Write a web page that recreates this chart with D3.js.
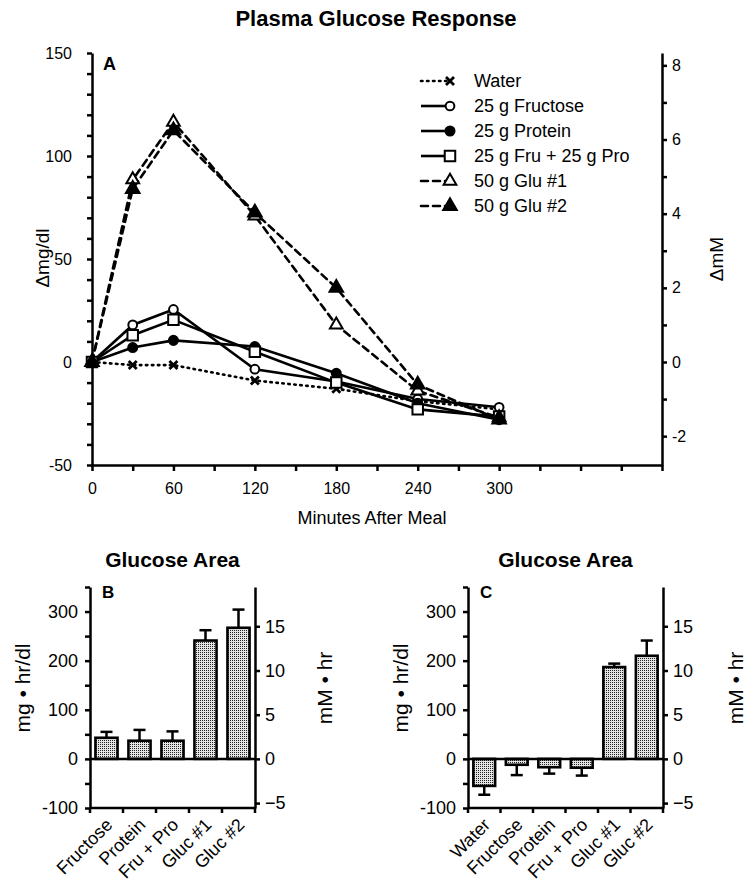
<!DOCTYPE html>
<html lang="en">
<head>
	<meta charset="utf-8">
	<title>Plasma Glucose Response</title>
	<script src='https://d3js.org/d3.v7.min.js'></script>
	<style>
		body { margin: 0; background: #fff; }
		svg text { font-family: "Liberation Sans", Arial, Helvetica, sans-serif; fill: #000; }
		.axis path, .axis line { stroke: #000; stroke-width: 2.5; }
		.axis text { font-size: 16px; }
		.barAxis text { font-size: 18px; }
	</style>
</head>
<body>
	<div id="chart"></div>
	<script>
		// Panel A: plasma glucose (delta mg/dl) after each meal
		var times = [0, 30, 60, 120, 180, 240, 300];
		var water = [0, -1.5, -1.5, -9, -13, -19, -23];
		var fructose = [0, 18, 25.5, -3.5, -9.5, -18, -22];
		var protein = [0, 7, 10.5, 7.5, -5.5, -20, -28];
		var fruPro = [0, 13, 20.5, 5, -10, -23, -26.5];
		var glu1 = [0, 88.5, 116.5, 71, 18, -14, -27];
		var glu2 = [0, 84, 112.5, 72.5, 36, -11, -28];
		var seriesNames = ["Water", "25 g Fructose", "25 g Protein", "25 g Fru + 25 g Pro", "50 g Glu #1", "50 g Glu #2"];

		// Panel B and C: glucose area (mg.hr/dl) with SEM
		var catsB = ["Fructose", "Protein", "Fru + Pro", "Gluc #1", "Gluc #2"];
		var areaB = [43, 37, 37, 241, 267];
		var errB = [12, 22, 19, 21, 37];
		var catsC = ["Water", "Fructose", "Protein", "Fru + Pro", "Gluc #1", "Gluc #2"];
		var areaC = [-55, -12, -17, -18, 187, 210];
		var errC = [18, 21, 13, 16, 7, 31];

		const width = 753;
		const height = 883;
		const MG_PER_MM = 18;

		var svg = d3.select("#chart")
					.append("svg")
					.attr("width", width)
					.attr("height", height);

		// stipple fill for the bars
		var pat = svg.append("defs").append("pattern")
					.attr("id", "stipple")
					.attr("patternUnits", "userSpaceOnUse")
					.attr("width", 2)
					.attr("height", 2);
		pat.append("rect").attr("width", 2).attr("height", 2).attr("fill", "#e4e4e4");
		pat.append("rect").attr("x", 0).attr("y", 0).attr("width", 1).attr("height", 1).attr("fill", "#222");

		svg.append("text")
			.attr("x", 376).attr("y", 26)
			.attr("text-anchor", "middle")
			.attr("font-size", 22).attr("font-weight", "bold")
			.text("Plasma Glucose Response");

		// ---------- Panel A ----------
		let xA = d3.scaleLinear().domain([0, 420]).range([92, 662]);
		let yA = d3.scaleLinear().domain([-50, 150]).range([465, 53]);
		let yA2 = d3.scaleLinear().domain([-50 / MG_PER_MM, 150 / MG_PER_MM]).range([465, 53]);

		let gA = svg.append("g");
		gA.append("g")
			.attr("class", "axis")
			.attr("transform", "translate(92,0)")
			.call(d3.axisLeft(yA).tickValues(d3.range(-50, 151, 10)).tickSize(5).tickSizeOuter(0).tickPadding(15)
				.tickFormat(function(d) { return d % 50 === 0 ? d : ""; }));
		gA.append("g")
			.attr("class", "axis")
			.attr("transform", "translate(662,0)")
			.call(d3.axisRight(yA2).tickValues(d3.range(-2, 9, 1)).tickSize(5).tickSizeOuter(0).tickPadding(5)
				.tickFormat(function(d) { return d % 2 === 0 ? d : ""; }));
		gA.append("g")
			.attr("class", "axis")
			.attr("transform", "translate(0,465)")
			.call(d3.axisBottom(xA).tickValues(d3.range(0, 421, 30)).tickSize(6).tickSizeOuter(0).tickPadding(12)
				.tickFormat(function(d) { return (d % 60 === 0 && d <= 300) ? d : ""; }));
		gA.selectAll(".axis text").attr("font-family", null);

		gA.append("text").attr("x", 103).attr("y", 70)
			.attr("font-size", 18).attr("font-weight", "bold").text("A");
		gA.append("text").attr("transform", "translate(49,258) rotate(-90)")
			.attr("text-anchor", "middle").attr("font-size", 19).text("\u0394mg/dl");
		gA.append("text").attr("transform", "translate(723,259) rotate(-90)")
			.attr("text-anchor", "middle").attr("font-size", 19).text("\u0394mM");
		gA.append("text").attr("x", 372).attr("y", 524)
			.attr("text-anchor", "middle").attr("font-size", 18).text("Minutes After Meal");

		var seriesData = [water, fructose, protein, fruPro, glu1, glu2];
		var dashes = ["1.5,4.5", null, null, null, "7,5", "7,5"];
		var markers = ["x", "openCircle", "circle", "square", "openTriangle", "triangle"];

		function drawMarker(g, type, x, y) {
			if (type === "x") {
				g.append("path")
					.attr("d", "M-4,-4L4,4M-4,4L4,-4")
					.attr("transform", "translate(" + x + "," + y + ")")
					.attr("stroke", "#000").attr("stroke-width", 2.8).attr("fill", "none");
				return;
			}
			let sym = d3.symbol();
			let fill = "#000";
			if (type === "openCircle") { sym.type(d3.symbolCircle).size(60); fill = "#fff"; }
			if (type === "circle") { sym.type(d3.symbolCircle).size(64); }
			if (type === "square") { sym.type(d3.symbolSquare).size(110); fill = "#fff"; }
			if (type === "openTriangle") { sym.type(d3.symbolTriangle).size(70); fill = "#fff"; }
			if (type === "triangle") { sym.type(d3.symbolTriangle).size(80); }
			g.append("path")
				.attr("d", sym())
				.attr("transform", "translate(" + x + "," + y + ")")
				.attr("fill", fill)
				.attr("stroke", "#000").attr("stroke-width", 2);
		}

		let line = d3.line()
					.x(function(d, i) { return xA(times[i]); })
					.y(function(d) { return yA(d); });

		seriesData.forEach(function(vals, k) {
			gA.append("path")
				.attr("d", line(vals))
				.attr("fill", "none")
				.attr("stroke", "#000")
				.attr("stroke-width", 2.6)
				.attr("stroke-linecap", dashes[k] ? "round" : "butt")
				.attr("stroke-dasharray", dashes[k]);
		});
		seriesData.forEach(function(vals, k) {
			vals.forEach(function(v, i) { drawMarker(gA, markers[k], xA(times[i]), yA(v)); });
		});

		// legend
		seriesNames.forEach(function(name, k) {
			let ly = 81 + k * 25;
			gA.append("line")
				.attr("x1", 421).attr("x2", 447).attr("y1", ly).attr("y2", ly)
				.attr("stroke", "#000").attr("stroke-width", 2.6)
				.attr("stroke-linecap", dashes[k] ? "round" : "butt")
				.attr("stroke-dasharray", dashes[k]);
			drawMarker(gA, markers[k], 450, ly);
			gA.append("text").attr("x", 474).attr("y", ly + 6)
				.attr("font-size", 18).text(name);
		});

		// ---------- Panels B and C ----------
		function drawBars(cats, vals, errs, left, right, letter, labelX, rightLabelX) {
			let x = d3.scaleBand().domain(cats).range([left, right]).paddingInner(0.33).paddingOuter(0.165);
			let y = d3.scaleLinear().domain([-100, 350]).range([808, 587]);
			let y2 = d3.scaleLinear().domain([-100 / MG_PER_MM, 350 / MG_PER_MM]).range([808, 587]);
			let g = svg.append("g");

			g.append("g").attr("class", "axis barAxis")
				.attr("transform", "translate(" + left + ",0)")
				.call(d3.axisLeft(y).tickValues(d3.range(-100, 351, 50)).tickSize(5).tickSizeOuter(0).tickPadding(7)
					.tickFormat(function(d) { return (d % 100 === 0 && d < 350) ? d : ""; }));
			g.append("g").attr("class", "axis barAxis")
				.attr("transform", "translate(" + right + ",0)")
				.call(d3.axisRight(y2).tickValues(d3.range(-5, 16, 5)).tickSize(5).tickSizeOuter(0).tickPadding(5));
			g.selectAll(".axis text").attr("font-family", null);

			// baseline along the bottom with ticks between categories
			g.append("line").attr("x1", left).attr("x2", right).attr("y1", y(-100)).attr("y2", y(-100))
				.attr("stroke", "#000").attr("stroke-width", 2.5);
			d3.range(cats.length + 1).forEach(function(i) {
				let tx = left + i * x.step();
				g.append("line").attr("x1", tx).attr("x2", tx).attr("y1", y(-100)).attr("y2", y(-100) + 5)
					.attr("stroke", "#000").attr("stroke-width", 2.5);
			});

			// bars
			g.selectAll("rect.bar")
				.data(vals)
				.enter()
				.append("rect")
				.attr("class", "bar")
				.attr("x", function(d, i) { return x(cats[i]); })
				.attr("y", function(d) { return y(Math.max(0, d)); })
				.attr("width", x.bandwidth())
				.attr("height", function(d) { return Math.abs(y(d) - y(0)); })
				.attr("fill", "url(#stipple)")
				.attr("stroke", "#000")
				.attr("stroke-width", 2.6);

			// error bars go away from zero
			vals.forEach(function(d, i) {
				let cx = x(cats[i]) + x.bandwidth() / 2;
				let tip = d >= 0 ? d + errs[i] : d - errs[i];
				g.append("line").attr("x1", cx).attr("x2", cx).attr("y1", y(d)).attr("y2", y(tip))
					.attr("stroke", "#000").attr("stroke-width", 2.5);
				g.append("line").attr("x1", cx - 6).attr("x2", cx + 6).attr("y1", y(tip)).attr("y2", y(tip))
					.attr("stroke", "#000").attr("stroke-width", 2.5);
			});

			// zero line
			g.append("line").attr("x1", left).attr("x2", right).attr("y1", y(0)).attr("y2", y(0))
				.attr("stroke", "#000").attr("stroke-width", 2.5);

			// category labels
			cats.forEach(function(c) {
				let cx = x(c) + x.bandwidth() / 2;
				g.append("text")
					.attr("transform", "translate(" + (cx + 7) + "," + 826 + ") rotate(-45)")
					.attr("text-anchor", "end")
					.attr("font-size", 18)
					.text(c);
			});

			g.append("text").attr("x", (left + right) / 2).attr("y", 567)
				.attr("text-anchor", "middle").attr("font-size", 21).attr("font-weight", "bold")
				.text("Glucose Area");
			g.append("text").attr("x", left + 12).attr("y", 598)
				.attr("font-size", 17).attr("font-weight", "bold").text(letter);
			g.append("text").attr("transform", "translate(" + labelX + ",688) rotate(-90)")
				.attr("text-anchor", "middle").attr("font-size", 21).text("mg \u2022 hr/dl");
			g.append("text").attr("transform", "translate(" + rightLabelX + ",688) rotate(-90)")
				.attr("text-anchor", "middle").attr("font-size", 21).text("mM \u2022 hr");
		}

		drawBars(catsB, areaB, errB, 90, 255, "B", 30, 332);
		drawBars(catsC, areaC, errC, 468, 663, "C", 408, 743);
	</script>
</body>
</html>
